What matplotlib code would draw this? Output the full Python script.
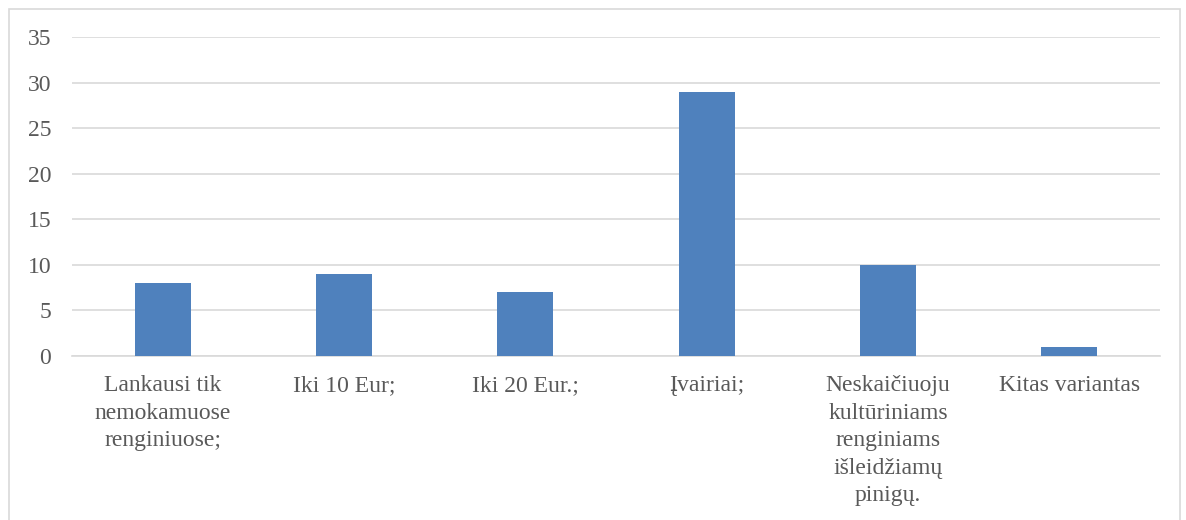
import matplotlib.pyplot as plt
import matplotlib.patches as patches

categories = [
    "Lankausi tik\nnemokamuose\nrenginiuose;",
    "Iki 10 Eur;",
    "Iki 20 Eur.;",
    "Įvairiai;",
    "Neskaičiuoju\nkultūriniams\nrenginiams\nišleidžiamų\npinigų.",
    "Kitas variantas",
]
values = [8, 9, 7, 29, 10, 1]
yticks = [0, 5, 10, 15, 20, 25, 30, 35]

plt.rcParams['font.family'] = ['Liberation Serif', 'DejaVu Serif']

fig = plt.figure(figsize=(11.86, 5.2), dpi=100)
ax = fig.add_axes([0.0607, 0.3154, 0.9173, 0.6134])

# rėmelis aplink diagramą
border = patches.Rectangle((9 / 1186, -0.05), 1171 / 1186, 1 - 9 / 520 + 0.05,
                           transform=fig.transFigure, fill=False,
                           edgecolor='#d9d9d9', linewidth=1.2)
fig.patches.append(border)

x = range(len(categories))
ax.bar(x, values, width=0.31, color='#4f81bd', zorder=3)

ax.set_xlim(-0.5, len(categories) - 0.5)
ax.set_ylim(0, 35)
ax.set_yticks(yticks)
ax.set_xticks(list(x))
ax.set_xticklabels(categories, linespacing=1.4)

ax.grid(axis='y', color='#d9d9d9', linewidth=1.2, zorder=0)
for s in ['top', 'right', 'left']:
    ax.spines[s].set_visible(False)
ax.spines['bottom'].set_color('#d9d9d9')
ax.spines['bottom'].set_linewidth(1.2)

ax.tick_params(axis='both', length=0, labelsize=17, colors='#595959')
ax.tick_params(axis='y', pad=15)
ax.tick_params(axis='x', pad=14)

fig.savefig('out.png', dpi=100)
